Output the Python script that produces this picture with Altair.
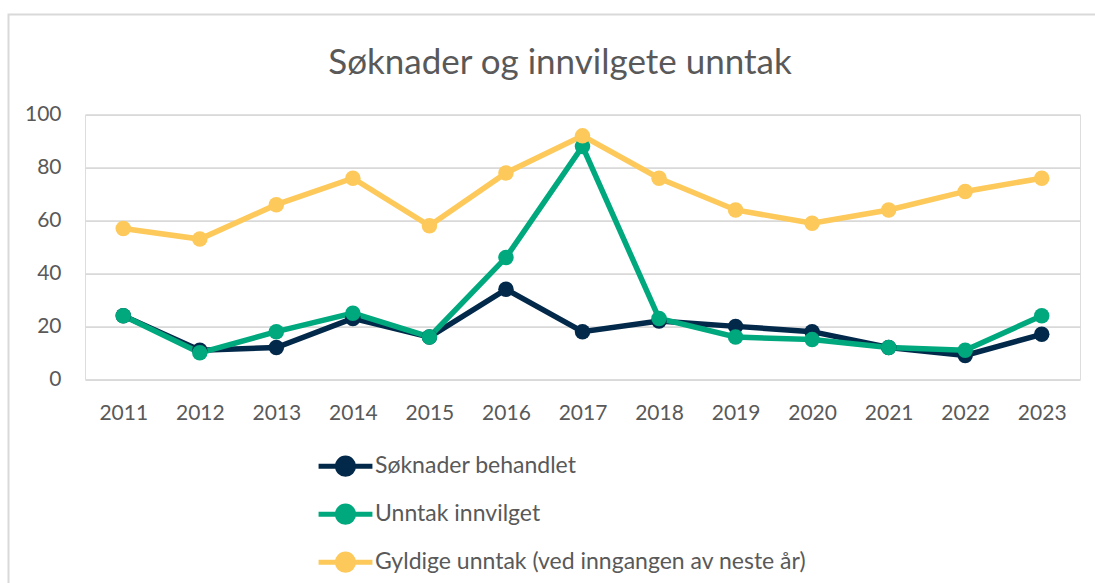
import altair as alt
import pandas as pd

years = ["2011", "2012", "2013", "2014", "2015", "2016", "2017", "2018", "2019", "2020", "2021", "2022", "2023"]
series_names = ["Søknader behandlet", "Unntak innvilget", "Gyldige unntak (ved inngangen av neste år)"]
soknader = [24, 11, 12, 23, 16, 34, 18, 22, 20, 18, 12, 9, 17]
innvilget = [24, 10, 18, 25, 16, 46, 88, 23, 16, 15, 12, 11, 24]
gyldige = [57, 53, 66, 76, 58, 78, 92, 76, 64, 59, 64, 71, 76]
colors = ["#02294A", "#00A87E", "#FDC95A"]
title_text = "Søknader og innvilgete unntak"

rows = []
for name, vals in zip(series_names, [soknader, innvilget, gyldige]):
    for y, v in zip(years, vals):
        rows.append({"År": y, "Serie": name, "Verdi": v})
df = pd.DataFrame(rows)
df["order"] = df["Serie"].map({n: i for i, n in enumerate(series_names)})

FONT = "Lato"
TXT = "#595959"

legend_path = "M-1,0L1,0M-0.3,0A0.3,0.3,0,1,1,0.3,0A0.3,0.3,0,1,1,-0.3,0Z"

lines = alt.Chart(df).mark_line(
    strokeWidth=5.5,
    point=alt.OverlayMarkDef(filled=True, size=240),
).encode(
    x=alt.X("År:N", sort=years, title=None,
            scale=alt.Scale(paddingInner=0, paddingOuter=0),
            axis=alt.Axis(domain=False, ticks=False, grid=False, labelAngle=0,
                          labelPadding=23, labelFontSize=21, labelColor=TXT,
                          labelFont=FONT)),
    y=alt.Y("Verdi:Q", title=None,
            scale=alt.Scale(domain=[0, 100], nice=False),
            axis=alt.Axis(values=[0, 20, 40, 60, 80, 100], domain=False, ticks=False,
                          gridColor="#D9D9D9", gridWidth=1.8, labelPadding=24,
                          labelFontSize=21, labelColor=TXT, labelFont=FONT)),
    color=alt.Color("Serie:N", sort=series_names,
                    scale=alt.Scale(domain=series_names, range=colors),
                    legend=alt.Legend(title=None, orient="none", legendX=231, legendY=322,
                                      direction="vertical", symbolType=legend_path,
                                      symbolSize=2900, symbolStrokeWidth=5,
                                      labelFontSize=23, labelColor=TXT, labelFont=FONT,
                                      labelOffset=0, rowPadding=-12, labelLimit=1000)),
    order=alt.Order("order:Q"),
)

deco_df = pd.DataFrame({"t": [title_text]})
border = alt.Chart(deco_df).mark_rect(
    fill=None, stroke="#D9D9D9", strokeWidth=2
).encode(
    x=alt.value(-76.5), x2=alt.value(1040), y=alt.value(-100.2), y2=alt.value(500)
)

title = alt.Chart(deco_df).mark_text(
    font=FONT, fontSize=35, color=TXT, align="center", baseline="alphabetic"
).encode(
    text="t:N", x=alt.value(475), y=alt.value(-41)
)

chart = alt.layer(border, title, lines).properties(
    width=995,
    height=264.6,
    autosize=alt.AutoSizeParams(type="none"),
    padding={"left": 85, "top": 114.7, "right": 15, "bottom": 203.7},
).configure_view(stroke=None).configure(background="white")

chart.save("out.html", embed_options={"renderer": "svg", "actions": False})
